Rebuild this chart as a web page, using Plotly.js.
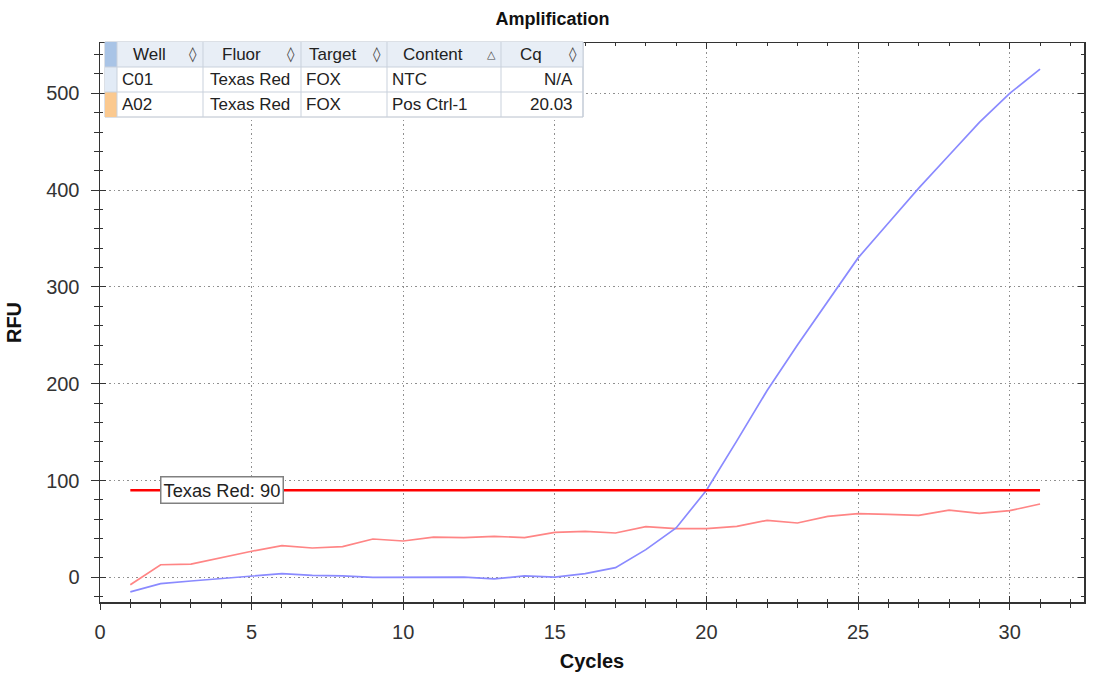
<!DOCTYPE html>
<html>
<head>
<meta charset="utf-8">
<script src="https://cdn.plot.ly/plotly-3.0.1.min.js"></script>
<style>html,body{margin:0;padding:0;background:#fff;}#chart{width:1094px;height:677px;}</style>
</head>
<body>
<div id="chart"></div>
<script>
// ---- data ----
var cycles = [1,2,3,4,5,6,7,8,9,10,11,12,13,14,15,16,17,18,19,20,21,22,23,24,25,26,27,28,29,30,31];
var blueRFU = [-15,-6.5,-3.8,-1.4,1,3.8,2,1.4,0,0,-0.3,0.3,-1.7,1.4,0.3,3.8,10,28.6,51,90,141,193,240,285,330,366,402,436,470,500,525];
var redRFU = [-7.6,13,13.7,20.3,26.9,32.7,30.3,31.7,39.6,37.5,41.6,41,42.4,41,46.5,47.5,45.8,52.4,50.3,50.3,52.7,58.9,56.1,63,65.8,65,64,69.5,66,68.9,75.7];
var thresholdCycles = [1,31];
var thresholdValue = 90;
var thresholdLabel = 'Texas Red: 90';

var tableHeaders = ['Well','Fluor','Target','Content','Cq'];
var tableSortMarks = ['\u25CA','\u25CA','\u25CA','\u25B3','\u25CA'];
var wells = ['C01','A02'];
var fluors = ['Texas Red','Texas Red'];
var targets = ['FOX','FOX'];
var contents = ['NTC','Pos Ctrl-1'];
var cqs = ['N/A','20.03'];

var xTickVals = [0,5,10,15,20,25,30];
var yTickVals = [0,100,200,300,400,500];

// ---- layout geometry ----
var W = 1094, H = 677, ML = 100, MR = 10, MT = 43, MB = 75;
var PW = W - ML - MR, PH = H - MT - MB;
function px(x){ return (x - ML) / PW; }
function py(y){ return (H - MB - y) / PH; }

var shapes = [], annotations = [];
var colEdges = [117,203,301,387,501,583];
var stripLeft = 105;
var rowEdges = [42,67,92,117];
var stripColors = ['#a9c4e6','#e2ebf6','#fbc98f'];
var border = '#c9d1dc';

shapes.push({type:'rect', xref:'paper', yref:'paper', x0:px(stripLeft), x1:px(colEdges[5]), y0:py(rowEdges[3]), y1:py(rowEdges[0]), fillcolor:'#ffffff', line:{color:'#b8c0cc', width:1}, layer:'above'});
shapes.push({type:'rect', xref:'paper', yref:'paper', x0:px(colEdges[0]), x1:px(colEdges[5]), y0:py(rowEdges[1]), y1:py(rowEdges[0]), fillcolor:'#e8eef6', line:{width:0}, layer:'above'});
for (var r = 0; r < 3; r++) {
  shapes.push({type:'rect', xref:'paper', yref:'paper', x0:px(stripLeft), x1:px(colEdges[0]), y0:py(rowEdges[r+1]), y1:py(rowEdges[r]), fillcolor:stripColors[r], line:{width:0}, layer:'above'});
}
for (var r = 1; r < 3; r++) {
  shapes.push({type:'line', xref:'paper', yref:'paper', x0:px(stripLeft), x1:px(colEdges[5]), y0:py(rowEdges[r]), y1:py(rowEdges[r]), line:{color:border, width:1}, layer:'above'});
}
for (var c = 0; c < colEdges.length; c++) {
  shapes.push({type:'line', xref:'paper', yref:'paper', x0:px(colEdges[c]), x1:px(colEdges[c]), y0:py(rowEdges[3]), y1:py(rowEdges[0]), line:{color:border, width:1}, layer:'above'});
}
var tfont = {family:'Liberation Sans, Arial, sans-serif', size:17, color:'#222'};
for (var c = 0; c < tableHeaders.length; c++) {
  var mid = (colEdges[c] + colEdges[c+1]) / 2 - 11;
  annotations.push({xref:'paper', yref:'paper', x:px(mid), y:py((rowEdges[0]+rowEdges[1])/2), text:tableHeaders[c], showarrow:false, xanchor:'center', yanchor:'middle', font:tfont});
  annotations.push({xref:'paper', yref:'paper', x:px(colEdges[c+1]-10), y:py((rowEdges[0]+rowEdges[1])/2), text:tableSortMarks[c], showarrow:false, xanchor:'center', yanchor:'middle', font:{family:'DejaVu Sans, sans-serif', size: c===3 ? 11 : 15, color:'#444'}});
}
var cols = [wells, fluors, targets, contents];
var pads = [3,5,3,3];
for (var r = 0; r < wells.length; r++) {
  var yc = py((rowEdges[r+1]+rowEdges[r+2])/2);
  for (var c = 0; c < cols.length; c++) {
    annotations.push({xref:'paper', yref:'paper', x:px(colEdges[c]+pads[c]), y:yc, text:cols[c][r], showarrow:false, xanchor:'left', yanchor:'middle', font:tfont});
  }
  annotations.push({xref:'paper', yref:'paper', x:px(colEdges[5]-8), y:yc, text:cqs[r], showarrow:false, xanchor:'right', yanchor:'middle', font:tfont});
}
annotations.push({xref:'x', yref:'y', x:1.98, y:thresholdValue, text:thresholdLabel, showarrow:false, xanchor:'left', yanchor:'middle', font:{family:'Liberation Sans, Arial, sans-serif', size:18.3, color:'#222'}, bgcolor:'#ffffff', bordercolor:'#808080', borderwidth:1.5, borderpad:2});

var traces = [
  {x:cycles, y:redRFU, type:'scatter', mode:'lines', line:{color:'#ff8585', width:1.7}, hoverinfo:'skip'},
  {x:cycles, y:blueRFU, type:'scatter', mode:'lines', line:{color:'#8a8aff', width:1.7}, hoverinfo:'skip'},
  {x:thresholdCycles, y:[thresholdValue, thresholdValue], type:'scatter', mode:'lines', line:{color:'#ff0000', width:2.5}, hoverinfo:'skip'},
  {x:[null], y:[null], xaxis:'x2', yaxis:'y2', type:'scatter', mode:'lines', hoverinfo:'skip'}
];

var xr = [0, 32.45], yr = [-25.5, 552];
var tickFont = {family:'Liberation Sans, Arial, sans-serif', size:20, color:'#333'};
var titleFont = {family:'Liberation Sans, Arial, sans-serif', size:20, color:'#111'};
var layout = {
  width:W, height:H, showlegend:false,
  margin:{l:ML, r:MR, t:MT, b:MB, pad:0},
  paper_bgcolor:'#ffffff', plot_bgcolor:'#ffffff',
  title:{text:'<b>Amplification</b>', x:0.505, xanchor:'center', y:0.972, yanchor:'middle', font:{family:'Liberation Sans, Arial, sans-serif', size:18, color:'#111'}},
  xaxis:{range:xr, tickvals:xTickVals, ticks:'inside', ticklen:6, tickcolor:'#333', mirror:'ticks', showline:true, linecolor:'#333', linewidth:1.5,
    showgrid:true, gridcolor:'#8f8f8f', griddash:'1.5px,3px', gridwidth:1, zeroline:false, tickfont:tickFont, ticklabelstandoff:11,
    minor:{dtick:1, ticks:'inside', ticklen:3, tickcolor:'#333', showgrid:false},
    title:{text:'<b>Cycles</b>', font:titleFont, standoff:12}},
  yaxis:{range:yr, tickvals:yTickVals, ticks:'inside', ticklen:6, tickcolor:'#333', mirror:'ticks', showline:true, linecolor:'#333', linewidth:1.5,
    showgrid:true, gridcolor:'#8f8f8f', griddash:'1.5px,3px', gridwidth:1, zeroline:false, tickfont:tickFont, ticklabelstandoff:15,
    minor:{dtick:20, ticks:'inside', ticklen:3, tickcolor:'#333', showgrid:false},
    title:{text:'<b>RFU</b>', font:titleFont, standoff:19}},
  xaxis2:{range:xr, overlaying:'x', side:'bottom', tickvals:xTickVals, ticks:'outside', ticklen:7, tickcolor:'#333', showticklabels:false, showgrid:false, showline:false, zeroline:false,
    minor:{dtick:1, ticks:'outside', ticklen:5, tickcolor:'#333', showgrid:false}},
  yaxis2:{range:yr, overlaying:'y', side:'left', tickvals:yTickVals, ticks:'outside', ticklen:8, tickcolor:'#333', showticklabels:false, showgrid:false, showline:false, zeroline:false,
    minor:{dtick:20, ticks:'outside', ticklen:5, tickcolor:'#333', showgrid:false}},
  shapes:shapes, annotations:annotations
};
Plotly.newPlot('chart', traces, layout, {displayModeBar:false, staticPlot:true});
</script>
</body>
</html>
